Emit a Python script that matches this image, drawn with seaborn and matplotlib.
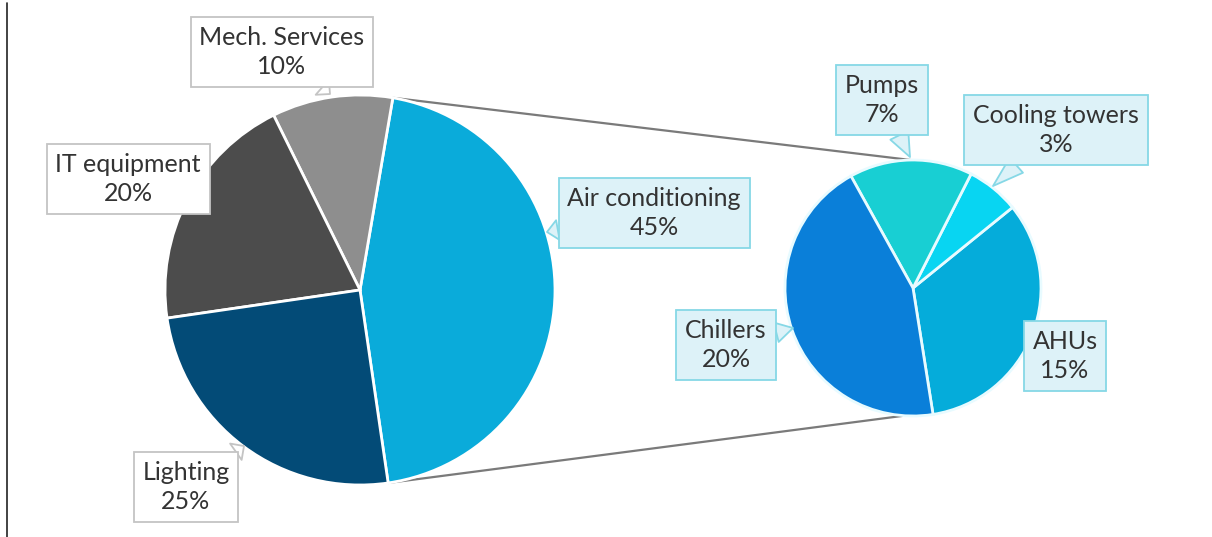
import numpy as np
import matplotlib
matplotlib.use("Agg")
import matplotlib.pyplot as plt
import seaborn as sns

sns.set_theme(style="white")
plt.rcParams['font.family'] = ['Lato', 'DejaVu Sans']

# ---- data ----
main_labels = ["Air conditioning", "Mech. Services", "IT equipment", "Lighting"]
main_values = [45, 10, 20, 25]
main_colors = ["#0AABDA", "#8E8E8E", "#4C4C4C", "#034B77"]

sub_labels = ["AHUs", "Cooling towers", "Pumps", "Chillers"]
sub_values = [15, 3, 7, 20]
sub_colors = ["#05ACDA", "#08D5F2", "#18CFD3", "#0A7FD9"]

W, H = 1212, 537
fig = plt.figure(figsize=(W / 100, H / 100), dpi=100)
ax = fig.add_axes([0, 0, 1, 1])

def py(y):
    return H - y

c1, r1 = (360, py(290)), 195
c2, r2 = (913, py(288)), 128
start1 = -81.7
start2 = -81.0

ax.pie(main_values, colors=main_colors, startangle=start1, counterclock=True,
       center=c1, radius=r1, frame=True,
       wedgeprops=dict(edgecolor="white", linewidth=2))
ax.pie(sub_values, colors=sub_colors, startangle=start2, counterclock=True,
       center=c2, radius=r2, frame=True,
       wedgeprops=dict(edgecolor="#E8FBFF", linewidth=2))
ax.set_xlim(0, W)
ax.set_ylim(0, H)
ax.set_aspect("equal")
ax.axis("off")

# connector lines from the Air-conditioning wedge edges to the sub pie
a_top = np.deg2rad(start1 + 360 * main_values[0] / sum(main_values))
a_bot = np.deg2rad(start1)
p_top = (c1[0] + r1 * np.cos(a_top), c1[1] + r1 * np.sin(a_top))
p_bot = (c1[0] + r1 * np.cos(a_bot), c1[1] + r1 * np.sin(a_bot))
q_top = (c2[0] + r2 * np.cos(np.deg2rad(91)), c2[1] + r2 * np.sin(np.deg2rad(91)))
q_bot = (c2[0] + r2 * np.cos(np.deg2rad(-94)), c2[1] + r2 * np.sin(np.deg2rad(-94)))
ax.plot([p_top[0], q_top[0]], [p_top[1], q_top[1]], color="#7A7A7A", lw=1.6, zorder=0.5)
ax.plot([p_bot[0], q_bot[0]], [p_bot[1], q_bot[1]], color="#7A7A7A", lw=1.6, zorder=0.5)

# left border line
ax.plot([7, 7], [0, py(3)], color="#222222", lw=1.2)

white_box = dict(fc="white", ec="#C4C4C4")
blue_box = dict(fc="#DDF2F8", ec="#86D8E6")

labels = [
    # text, value, box center (px), tip (px) or None, style
    ("Mech. Services", 10, (282, 52), (330, 94), white_box),
    ("IT equipment", 20, (128, 179), None, white_box),
    ("Lighting", 25, (186, 487), (244, 446), white_box),
    ("Air conditioning", 45, (654, 213), (547, 232), blue_box),
    ("Pumps", 7, (882, 100), (910, 157), blue_box),
    ("Cooling towers", 3, (1056, 130), (993, 186), blue_box),
    ("Chillers", 20, (726, 345), (793, 328), blue_box),
    ("AHUs", 15, (1065, 356), (1029, 340), blue_box),
]

FS = 18
for name, val, (bx, by), tip, st in labels:
    bbox = dict(boxstyle="square,pad=0.35", fc=st["fc"], ec=st["ec"], lw=1.3)
    txt = f"{name}\n{val}%"
    if tip is None:
        ax.text(bx, py(by), txt, ha="center", va="center", fontsize=FS,
                color="#333333", linespacing=1.3, bbox=bbox, zorder=5)
    else:
        ax.annotate(txt, xy=(tip[0], py(tip[1])), xytext=(bx, py(by)),
                    ha="center", va="center", fontsize=FS, color="#333333",
                    linespacing=1.3, bbox=bbox, zorder=5,
                    arrowprops=dict(arrowstyle="wedge,tail_width=0.8,shrink_factor=0.5",
                                    fc=st["fc"], ec=st["ec"], lw=1.3,
                                    shrinkA=0, shrinkB=0))

fig.savefig("out.png", dpi=100, facecolor="white")
